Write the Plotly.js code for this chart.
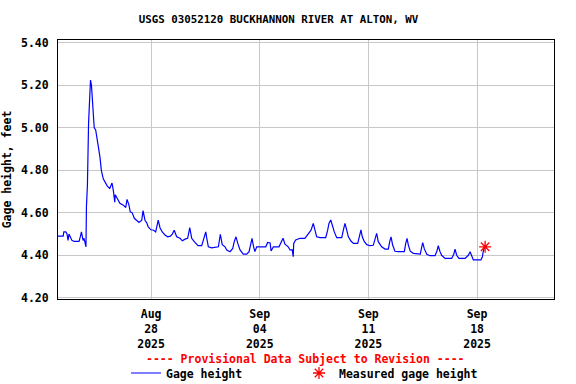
<!DOCTYPE html>
<html>
<head>
<meta charset="utf-8">
<script src="https://cdn.plot.ly/plotly-3.0.1.min.js"></script>
<style>html,body{margin:0;padding:0;background:#fff;}#chart{width:576px;height:384px;}</style>
</head>
<body>
<div id="chart"></div>
<script>
const gageTimes = [
'2025-08-22 00:00','2025-08-22 08:00','2025-08-22 09:00','2025-08-22 12:00','2025-08-22 14:00','2025-08-22 15:30','2025-08-22 17:00','2025-08-22 20:00','2025-08-22 21:30',
'2025-08-23 01:00','2025-08-23 08:30','2025-08-23 10:45','2025-08-23 12:15','2025-08-23 14:45','2025-08-23 16:15','2025-08-23 17:45','2025-08-23 19:15','2025-08-23 20:00','2025-08-23 21:30','2025-08-23 23:15',
'2025-08-24 00:45','2025-08-24 02:15','2025-08-24 03:45','2025-08-24 06:00','2025-08-24 08:00','2025-08-24 10:15','2025-08-24 12:45','2025-08-24 15:00','2025-08-24 17:00','2025-08-24 19:00','2025-08-24 22:00',
'2025-08-25 01:00','2025-08-25 04:15','2025-08-25 08:00','2025-08-25 11:30','2025-08-25 13:30','2025-08-25 15:45','2025-08-25 16:30','2025-08-25 20:15','2025-08-25 23:45',
'2025-08-26 05:00','2025-08-26 08:45','2025-08-26 10:45','2025-08-26 13:45','2025-08-26 15:45','2025-08-26 18:45','2025-08-26 22:00',
'2025-08-27 02:15','2025-08-27 05:15','2025-08-27 09:30','2025-08-27 11:30','2025-08-27 14:30','2025-08-27 17:15','2025-08-27 19:30','2025-08-27 23:45',
'2025-08-28 04:00','2025-08-28 07:00','2025-08-28 09:00','2025-08-28 11:00','2025-08-28 13:45','2025-08-28 17:15','2025-08-28 21:30',
'2025-08-29 01:30','2025-08-29 05:45','2025-08-29 08:45','2025-08-29 11:45','2025-08-29 15:30','2025-08-29 20:45',
'2025-08-30 00:15','2025-08-30 04:30','2025-08-30 08:30','2025-08-30 11:45','2025-08-30 14:45','2025-08-30 18:45','2025-08-30 22:30',
'2025-08-31 00:30','2025-08-31 06:15','2025-08-31 09:45','2025-08-31 12:30','2025-08-31 14:30','2025-08-31 16:30','2025-08-31 21:45',
'2025-09-01 08:00','2025-09-01 11:00','2025-09-01 14:00','2025-09-01 18:15','2025-09-01 21:00',
'2025-09-02 02:00','2025-09-02 06:15','2025-09-02 08:30','2025-09-02 11:15','2025-09-02 14:00','2025-09-02 17:30','2025-09-02 22:30',
'2025-09-03 03:45','2025-09-03 07:30','2025-09-03 10:30','2025-09-03 12:00','2025-09-03 14:30','2025-09-03 16:30','2025-09-03 19:15',
'2025-09-04 09:15','2025-09-04 12:15','2025-09-04 16:00','2025-09-04 17:30','2025-09-04 21:00',
'2025-09-05 05:45','2025-09-05 10:00','2025-09-05 12:00','2025-09-05 15:00','2025-09-05 20:00','2025-09-05 22:45',
'2025-09-06 02:15','2025-09-06 03:45','2025-09-06 04:30','2025-09-06 07:30','2025-09-06 14:15','2025-09-06 21:45',
'2025-09-07 00:30','2025-09-07 04:15','2025-09-07 07:15','2025-09-07 10:45','2025-09-07 13:30','2025-09-07 16:00','2025-09-07 21:15',
'2025-09-08 06:00','2025-09-08 09:00','2025-09-08 11:00','2025-09-08 13:45','2025-09-08 16:15','2025-09-08 19:15','2025-09-08 23:00',
'2025-09-09 06:45','2025-09-09 09:15','2025-09-09 11:45','2025-09-09 14:30','2025-09-09 17:00','2025-09-09 21:00',
'2025-09-10 00:45','2025-09-10 07:30','2025-09-10 10:00','2025-09-10 12:30','2025-09-10 14:30','2025-09-10 17:45','2025-09-10 21:30',
'2025-09-11 02:30','2025-09-11 07:30','2025-09-11 10:15','2025-09-11 12:45','2025-09-11 15:15','2025-09-11 20:30',
'2025-09-12 01:45','2025-09-12 06:45','2025-09-12 09:00','2025-09-12 11:00','2025-09-12 13:30','2025-09-12 17:00','2025-09-12 22:15',
'2025-09-13 07:30','2025-09-13 09:45','2025-09-13 11:45','2025-09-13 13:45','2025-09-13 16:45','2025-09-13 21:30',
'2025-09-14 05:15','2025-09-14 08:15','2025-09-14 10:30','2025-09-14 12:00','2025-09-14 14:30','2025-09-14 18:15','2025-09-14 23:15',
'2025-09-15 07:00','2025-09-15 10:00','2025-09-15 12:00','2025-09-15 14:45','2025-09-15 17:15','2025-09-15 22:30',
'2025-09-16 08:45','2025-09-16 12:00','2025-09-16 14:00','2025-09-16 16:30','2025-09-16 20:00',
'2025-09-17 05:30','2025-09-17 10:30','2025-09-17 13:15','2025-09-17 15:45','2025-09-17 18:15',
'2025-09-18 06:00','2025-09-18 08:15','2025-09-18 09:45','2025-09-18 12:15'
];
const gageHeight = [
4.49,4.49,4.51,4.51,4.50,4.47,4.50,4.48,4.47,
4.465,4.465,4.49,4.51,4.47,4.48,4.46,4.44,4.63,4.73,5.02,
5.18,5.225,5.20,5.075,5.00,4.99,4.95,4.90,4.86,4.80,4.76,
4.745,4.726,4.715,4.74,4.707,4.65,4.685,4.66,4.645,
4.636,4.625,4.663,4.636,4.605,4.60,4.574,
4.56,4.555,4.565,4.61,4.565,4.553,4.534,4.52,
4.518,4.51,4.537,4.565,4.53,4.51,4.495,
4.487,4.49,4.50,4.518,4.487,4.48,
4.468,4.476,4.48,4.53,4.48,4.464,4.448,
4.445,4.445,4.48,4.51,4.472,4.44,4.435,
4.44,4.498,4.45,4.44,4.425,
4.417,4.432,4.464,4.487,4.456,4.425,4.405,
4.405,4.417,4.456,4.48,4.44,4.417,4.44,
4.44,4.46,4.458,4.42,4.44,
4.44,4.464,4.48,4.452,4.44,4.425,
4.425,4.393,4.456,4.472,4.48,4.48,
4.492,4.503,4.518,4.55,4.518,4.487,4.483,
4.483,4.518,4.55,4.566,4.535,4.51,4.483,
4.483,4.518,4.55,4.518,4.487,4.467,
4.456,4.456,4.495,4.52,4.487,4.464,4.45,
4.445,4.447,4.48,4.503,4.464,4.44,
4.429,4.429,4.464,4.487,4.448,4.419,4.417,
4.417,4.456,4.48,4.448,4.419,4.409,
4.405,4.405,4.44,4.46,4.43,4.405,4.398,
4.398,4.42,4.445,4.417,4.40,4.385,
4.385,4.405,4.429,4.40,4.385,
4.385,4.40,4.417,4.393,4.378,
4.378,4.393,4.42,4.445
];
const measuredTimes = ['2025-09-18 12:30'];
const measuredHeight = [4.44];
const xTickVals = ['2025-08-28','2025-09-04','2025-09-11','2025-09-18'];
const xTickText = ['Aug<br>28<br>2025','Sep<br>04<br>2025','Sep<br>11<br>2025','Sep<br>18<br>2025'];
const titleText = 'USGS 03052120 BUCKHANNON RIVER AT ALTON, WV';
const yTitleText = 'Gage height, feet';
const noteText = '---- Provisional Data Subject to Revision ----';

const FONT = 'DejaVu Sans Mono, Liberation Mono, monospace';

const traces = [
  {x: gageTimes, y: gageHeight, type: 'scatter', mode: 'lines', name: 'Gage height',
   line: {color: '#0000ff', width: 1.2}, legend: 'legend', hoverinfo: 'skip'},
  {x: measuredTimes, y: measuredHeight, type: 'scatter', mode: 'markers', name: 'Measured gage height',
   marker: {symbol: 'asterisk-open', size: 10, color: '#ff0000', line: {color: '#ff0000', width: 1.3}},
   legend: 'legend2', hoverinfo: 'skip'}
];

const layout = {
  width: 576, height: 384,
  margin: {l: 58, r: 22, t: 40, b: 85},
  paper_bgcolor: '#ffffff', plot_bgcolor: '#ffffff',
  font: {family: FONT, size: 11.5, color: '#000000', weight: 'bold'},
  title: {text: titleText, font: {family: FONT, size: 10.8, weight: 'bold', color: '#000'},
          x: 278.5/576, xanchor: 'center', xref: 'container', y: 1 - 19/384, yanchor: 'middle', yref: 'container'},
  xaxis: {type: 'date', range: ['2025-08-22 00:00', '2025-09-22 23:00'],
          tickmode: 'array', tickvals: xTickVals, ticktext: xTickText,
          showgrid: true, gridcolor: '#c8c8c8', gridwidth: 1,
          showline: true, linecolor: '#000', linewidth: 1, mirror: true,
          ticks: '', ticklabelstandoff: 4, zeroline: false,
          tickfont: {family: FONT, size: 11.5, weight: 'bold', color: '#000'}},
  yaxis: {range: [4.194, 5.414], tickmode: 'linear', tick0: 4.2, dtick: 0.2, tickformat: '.2f',
          showgrid: true, gridcolor: '#c8c8c8', gridwidth: 1,
          showline: true, linecolor: '#000', linewidth: 1, mirror: true,
          ticks: '', ticklabelstandoff: 6, zeroline: false,
          tickfont: {family: FONT, size: 11.5, weight: 'bold', color: '#000'},
          title: {text: yTitleText, font: {family: FONT, size: 11.5, weight: 'bold', color: '#000'}, standoff: 12}},
  showlegend: true,
  legend: {x: 126/576, xref: 'container', xanchor: 'left', y: 1 - 373/384, yref: 'container', yanchor: 'middle',
           orientation: 'h', bgcolor: 'rgba(0,0,0,0)', borderwidth: 0,
           font: {family: FONT, size: 11.5, weight: 'bold', color: '#000'}},
  legend2: {x: 299/576, xref: 'container', xanchor: 'left', y: 1 - 373/384, yref: 'container', yanchor: 'middle',
           orientation: 'h', bgcolor: 'rgba(0,0,0,0)', borderwidth: 0,
           font: {family: FONT, size: 11.5, weight: 'bold', color: '#000'}},
  annotations: [
    {text: noteText, xref: 'paper', yref: 'paper', x: (305.5-58)/496, y: -(359-299)/259,
     xanchor: 'center', yanchor: 'middle', showarrow: false,
     font: {family: FONT, size: 11.5, weight: 'bold', color: '#ff0000'}}
  ]
};

Plotly.newPlot('chart', traces, layout, {staticPlot: true, displayModeBar: false});
</script>
</body>
</html>
